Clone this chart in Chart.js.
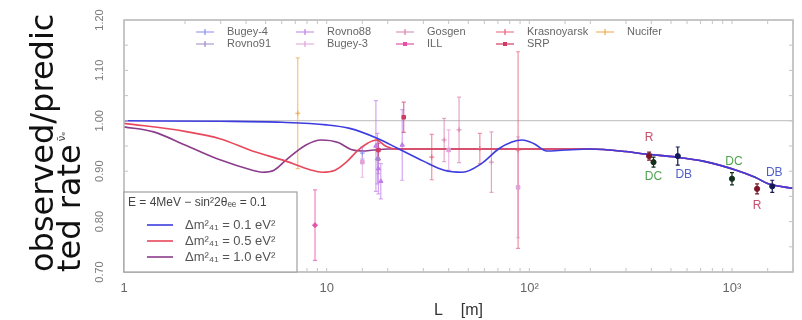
<!DOCTYPE html>
<html>
<head>
<meta charset="utf-8">
<script src="https://cdn.jsdelivr.net/npm/chart.js@4.4.0/dist/chart.umd.min.js"></script>
<style>
  html, body { margin: 0; padding: 0; background: #fff; }
  #wrap { width: 802px; height: 320px; }
</style>
</head>
<body>
<div id="wrap"><canvas id="myChart" width="802" height="320"></canvas></div>
<script>
// sterile curves (E = 4 MeV, sin^2 2theta = 0.1)
const blueL = [1, 3, 6, 10, 13, 17.6, 22.5, 30, 38, 46.8, 58, 71, 82, 92, 105, 122, 150];
const blueR = [1.0, 0.999, 0.997, 0.992, 0.985, 0.966, 0.945, 0.92, 0.902, 0.898, 0.915, 0.945, 0.958, 0.962, 0.955, 0.94, 0.942];
const redL = [1, 2, 3, 4.3, 6.3, 8.4, 9.5, 11, 12.5, 14.3, 16, 17.6, 19.5, 22, 30, 50, 80, 120, 160];
const redR = [0.995, 0.979, 0.964, 0.94, 0.92, 0.902, 0.898, 0.902, 0.918, 0.942, 0.956, 0.962, 0.95, 0.944, 0.944, 0.944, 0.944, 0.944, 0.944];
const purpleL = [1, 1.4, 2, 3, 4.3, 4.8, 5.5, 6.3, 7.9, 9.4, 11.4, 13.2, 15, 17, 20, 30, 50, 80, 120, 160];
const purpleR = [0.988, 0.978, 0.952, 0.922, 0.902, 0.898, 0.902, 0.922, 0.952, 0.962, 0.957, 0.943, 0.94, 0.942, 0.944, 0.944, 0.944, 0.944, 0.944, 0.944];
// common tail (theta13 dip)
const tailL = [200, 300, 375, 530, 720, 1050, 1300, 1510, 2000];
const tailR = [0.944, 0.939, 0.934, 0.928, 0.92, 0.902, 0.888, 0.875, 0.866];

// short baseline experiments: baseline, ratio, error
const bugey4L = [15], bugey4R = [0.936], bugey4E = [0.012];
const rovno91L = [18], rovno91R = [0.925], rovno91E = [0.03];
const rovno88L = [17.5, 18, 18.5, 23.6, 17.8], rovno88R = [0.95, 0.905, 0.88, 0.952, 0.925], rovno88E = [0.09, 0.05, 0.035, 0.07, 0.05];
const bugey3L = [15, 40, 88], bugey3R = [0.918, 0.942, 0.868], bugey3E = [0.03, 0.04, 0.1];
const gosgenL = [38, 45, 65], gosgenR = [0.962, 0.982, 0.918], gosgenE = [0.043, 0.065, 0.06];
const illL = [8.76], illR = [0.793], illE = [0.07];
const krasL = [33, 57, 88], krasR = [0.928, 0.945, 0.942], krasE = [0.045, 0.03, 0.195];
const srpL = [18, 24], srpR = [0.942, 1.007], srpE = [0.02, 0.03];
const nuciferL = [7.2], nuciferR = [1.015], nuciferE = [0.11];

// far reactor points
const renoL = [390, 1330], renoR = [0.93, 0.865], renoE = [0.008, 0.01];
const dcL = [410, 1000], dcR = [0.918, 0.885], dcE = [0.01, 0.012];
const dbL = [540, 1580], dbR = [0.93, 0.87], dbE = [0.018, 0.012];

const yTicks = [0.7, 0.8, 0.9, 1.0, 1.1, 1.2];
const xTickText = { 1: '1', 10: '10', 100: '10²', 1000: '10³' };

const pts = (L, R) => L.map((l, i) => ({ x: l, y: R[i] }));

const expList = [
  { label: 'Bugey-4', L: bugey4L, R: bugey4R, E: bugey4E, color: '#8c8cf0', mark: 'cross' },
  { label: 'Rovno91', L: rovno91L, R: rovno91R, E: rovno91E, color: '#a088c8', mark: 'triangle' },
  { label: 'Rovno88', L: rovno88L, R: rovno88R, E: rovno88E, color: '#c07ee8', mark: 'triangle' },
  { label: 'Bugey-3', L: bugey3L, R: bugey3R, E: bugey3E, color: '#e0a0d8', mark: 'line' },
  { label: 'Gosgen', L: gosgenL, R: gosgenR, E: gosgenE, color: '#d880b0', mark: 'cross' },
  { label: 'ILL', L: illL, R: illR, E: illE, color: '#e850a8', mark: 'rectRot' },
  { label: 'Krasnoyarsk', L: krasL, R: krasR, E: krasE, color: '#e86078', mark: 'cross' },
  { label: 'SRP', L: srpL, R: srpR, E: srpE, color: '#d03c64', mark: 'rect' },
  { label: 'Nucifer', L: nuciferL, R: nuciferR, E: nuciferE, color: '#f0a848', mark: 'cross' }
];

const farList = [
  { label: 'RENO', tag: 'R', L: renoL, R: renoR, E: renoE, color: '#7a1628', tagColor: '#c8506e', offs: [[0, -18], [0, 17]] },
  { label: 'Double Chooz', tag: 'DC', L: dcL, R: dcR, E: dcE, color: '#14301a', tagColor: '#4fa24f', offs: [[0, 15], [2, -17]] },
  { label: 'Daya Bay', tag: 'DB', L: dbL, R: dbR, E: dbE, color: '#141a58', tagColor: '#5060c8', offs: [[6, 19], [2, -14]] }
];

const curves = [
  { label: 'Δm²₄₁ = 0.1 eV²', data: pts(blueL.concat(tailL), blueR.concat(tailR)), color: '#3c3ce0' },
  { label: 'Δm²₄₁ = 0.5 eV²', data: pts(redL.concat(tailL), redR.concat(tailR)), color: '#e8485c' },
  { label: 'Δm²₄₁ = 1.0 eV²', data: pts(purpleL.concat(tailL), purpleR.concat(tailR)), color: '#8c3c8c' }
];

const datasets = [];
curves.forEach(c => datasets.push({
  label: c.label, data: c.data, showLine: true, borderColor: c.color, backgroundColor: c.color,
  borderWidth: 1.6, pointRadius: 0, cubicInterpolationMode: 'monotone', order: 3
}));
expList.forEach(e => datasets.push({
  label: e.label, data: pts(e.L, e.R), errors: e.E, barColor: e.color + 'b0',
  borderColor: e.color, backgroundColor: e.color, pointStyle: e.mark === 'line' ? 'rect' : e.mark,
  pointRadius: 2.5, borderWidth: 1, order: 1
}));
farList.forEach(f => datasets.push({
  label: f.label, data: pts(f.L, f.R), errors: f.E, barColor: f.color,
  borderColor: f.color, backgroundColor: f.color, pointRadius: 2.6, order: 1
}));

const errorBars = {
  id: 'errorBars',
  beforeDatasetsDraw(chart) {
    const { ctx, chartArea: a, scales: { x, y } } = chart;
    ctx.save();
    ctx.beginPath();
    ctx.rect(a.left, a.top, a.width, a.height);
    ctx.clip();
    chart.data.datasets.forEach(ds => {
      if (!ds.errors) return;
      ctx.strokeStyle = ds.barColor;
      ctx.lineWidth = 1.2;
      ds.data.forEach((p, i) => {
        const px = x.getPixelForValue(p.x);
        const top = y.getPixelForValue(p.y + ds.errors[i]);
        const bot = y.getPixelForValue(p.y - ds.errors[i]);
        ctx.beginPath();
        ctx.moveTo(px, top); ctx.lineTo(px, bot);
        ctx.moveTo(px - 2, top); ctx.lineTo(px + 2, top);
        ctx.moveTo(px - 2, bot); ctx.lineTo(px + 2, bot);
        ctx.stroke();
      });
    });
    ctx.restore();
  }
};

const decor = {
  id: 'decor',
  afterDraw(chart) {
    const { ctx, chartArea: a, scales: { x, y } } = chart;
    ctx.save();
    // frame
    ctx.strokeStyle = '#b4b4b4';
    ctx.lineWidth = 1.5;
    ctx.strokeRect(a.left, a.top, a.width, a.height);
    // minor ticks
    ctx.lineWidth = 1;
    ctx.strokeStyle = '#c4c4c4';
    x.ticks.forEach(t => {
      const px = x.getPixelForValue(t.value);
      ctx.beginPath();
      ctx.moveTo(px, a.bottom); ctx.lineTo(px, a.bottom - 4);
      ctx.moveTo(px, a.top); ctx.lineTo(px, a.top + 4);
      ctx.stroke();
    });
    y.ticks.forEach(t => {
      [t.value, t.value + 0.05].forEach(v => {
        if (v > 1.2001) return;
        const py = y.getPixelForValue(v);
        ctx.beginPath();
        ctx.moveTo(a.left, py); ctx.lineTo(a.left + 4, py);
        ctx.moveTo(a.right, py); ctx.lineTo(a.right - 4, py);
        ctx.stroke();
      });
    });
    // rotated y tick labels
    ctx.fillStyle = '#7a7a7a';
    ctx.font = '11px "Liberation Sans"';
    ctx.textAlign = 'center';
    ctx.textBaseline = 'middle';
    yTicks.forEach(v => {
      ctx.save();
      ctx.translate(a.left - 24, y.getPixelForValue(v));
      ctx.rotate(-Math.PI / 2);
      ctx.fillText(v.toFixed(2), 0, 0);
      ctx.restore();
    });
    // small superscript after the axis title
    ctx.save();
    ctx.font = '32px "DejaVu Sans"';
    const w2 = ctx.measureText('ted rate').width;
    ctx.translate(62, a.bottom - w2 - 3);
    ctx.rotate(-Math.PI / 2);
    ctx.font = '10px "DejaVu Sans"';
    ctx.fillStyle = '#444';
    ctx.textAlign = 'left';
    ctx.fillText('ν̄ₑ', 0, 0);
    ctx.restore();

    // top legend, two rows
    ctx.font = '11px "Liberation Sans"';
    ctx.textAlign = 'left';
    ctx.textBaseline = 'middle';
    expList.forEach((e, i) => {
      const tx = a.left + 103 + 100 * Math.floor(i / 2);
      const ty = a.top + 12 + 12 * (i % 2);
      ctx.strokeStyle = e.color;
      ctx.fillStyle = e.color;
      ctx.lineWidth = 1.2;
      ctx.beginPath();
      ctx.moveTo(tx - 31, ty); ctx.lineTo(tx - 13, ty);
      if (e.mark !== 'rect' && e.mark !== 'rectRot') {
        ctx.moveTo(tx - 22, ty - 3); ctx.lineTo(tx - 22, ty + 3);
      }
      ctx.stroke();
      if (e.mark === 'rect' || e.mark === 'rectRot') ctx.fillRect(tx - 24, ty - 2, 4, 4);
      ctx.fillStyle = '#666';
      ctx.fillText(e.label, tx, ty);
    });

    // parameter box, lower left
    const bx = a.left, by = a.bottom - 80, bw = 173, bh = 80;
    ctx.fillStyle = '#fff';
    ctx.fillRect(bx, by, bw, bh);
    ctx.strokeStyle = '#a0a0a0';
    ctx.lineWidth = 1.2;
    ctx.strokeRect(bx, by, bw, bh);
    ctx.fillStyle = '#444';
    ctx.font = '12px "Liberation Sans"';
    ctx.fillText('E = 4MeV − sin²2θₑₑ = 0.1', bx + 4, by + 11);
    ctx.font = '13px "Liberation Sans"';
    curves.forEach((c, k) => {
      const ly = by + 33 + 16 * k;
      ctx.strokeStyle = c.color;
      ctx.lineWidth = 1.6;
      ctx.beginPath();
      ctx.moveTo(bx + 23, ly); ctx.lineTo(bx + 49, ly);
      ctx.stroke();
      ctx.fillStyle = '#555';
      ctx.fillText(c.label, bx + 61, ly);
    });

    // far reactor tags
    ctx.font = '12px "Liberation Sans"';
    ctx.textAlign = 'center';
    farList.forEach(f => {
      ctx.fillStyle = f.tagColor;
      f.L.forEach((l, i) => {
        ctx.fillText(f.tag, x.getPixelForValue(l) + f.offs[i][0], y.getPixelForValue(f.R[i]) + f.offs[i][1]);
      });
    });
    ctx.restore();
  }
};

new Chart(document.getElementById('myChart'), {
  type: 'scatter',
  data: { datasets },
  plugins: [errorBars, decor],
  options: {
    responsive: false,
    animation: false,
    layout: { padding: { top: 20, right: 7, left: 0, bottom: 0 } },
    plugins: { legend: { display: false }, tooltip: { enabled: false } },
    scales: {
      x: {
        type: 'logarithmic',
        min: 1,
        max: 2000,
        border: { display: false },
        grid: { display: false, drawTicks: false },
        ticks: {
          autoSkip: false,
          maxRotation: 0,
          padding: 9,
          color: '#666',
          font: { family: 'Liberation Sans', size: 13 },
          callback: v => xTickText[v] || ''
        },
        title: {
          display: true,
          text: 'L    [m]',
          color: '#333',
          font: { family: 'Liberation Sans', size: 16 },
          padding: { top: 0, bottom: 0 }
        },
        afterFit: s => { s.height = 48; }
      },
      y: {
        min: 0.7,
        max: 1.2,
        border: { display: false },
        grid: {
          drawTicks: false,
          lineWidth: 1.2,
          color: c => Math.abs(c.tick.value - 1) < 1e-6 ? '#c8c8c8' : 'rgba(0,0,0,0)'
        },
        ticks: { display: false, stepSize: 0.1 },
        title: {
          display: true,
          text: ['observed/predic', 'ted rate'],
          align: 'start',
          color: '#111',
          font: { family: 'DejaVu Sans', size: 32, lineHeight: '27px' },
          padding: { top: 31, bottom: 0 }
        },
        afterFit: s => { s.width = 124; }
      }
    }
  }
});
</script>
</body>
</html>
